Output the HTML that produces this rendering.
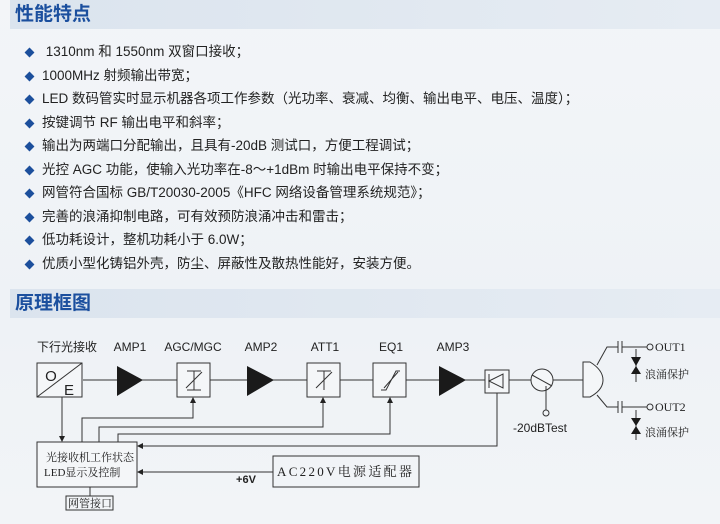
<!DOCTYPE html>
<html><head><meta charset="utf-8"><style>
body{margin:0;width:720px;height:524px;overflow:hidden;background:linear-gradient(180deg,#f3f5f8,#eef2f6 60%,#f2f4f7);font-family:"Liberation Sans","Noto Sans CJK SC",sans-serif;position:relative}
.hd{position:absolute;left:10px;width:710px;height:29px;background:linear-gradient(90deg,#dbe4ee,#e6ecf3);color:#1b4f9e;font-size:19px;font-weight:bold;line-height:29px;padding-left:5px;box-sizing:border-box}
.li{position:absolute;left:42px;font-size:13.5px;color:#222;white-space:nowrap;line-height:16px}
.d{position:absolute;left:26px;width:7px;height:7px;background:#1c4f9c;transform:rotate(45deg)}
</style></head><body>
<div class="hd" style="top:0">性能特点</div>
<div class="hd" style="top:289px">原理框图</div>
<div class="d" style="top:49px"></div><div class="li" style="top:44px">&nbsp;1310nm 和 1550nm 双窗口接收；</div>
<div class="d" style="top:73px"></div><div class="li" style="top:68px">1000MHz 射频输出带宽；</div>
<div class="d" style="top:96px"></div><div class="li" style="top:91px">LED 数码管实时显示机器各项工作参数（光功率、衰减、均衡、输出电平、电压、温度）；</div>
<div class="d" style="top:120px"></div><div class="li" style="top:115px">按键调节 RF 输出电平和斜率；</div>
<div class="d" style="top:143px"></div><div class="li" style="top:138px">输出为两端口分配输出，且具有-20dB 测试口，方便工程调试；</div>
<div class="d" style="top:167px"></div><div class="li" style="top:162px">光控 AGC 功能，使输入光功率在-8～+1dBm 时输出电平保持不变；</div>
<div class="d" style="top:190px"></div><div class="li" style="top:185px">网管符合国标 GB/T20030-2005《HFC 网络设备管理系统规范》；</div>
<div class="d" style="top:214px"></div><div class="li" style="top:209px">完善的浪涌抑制电路，可有效预防浪涌冲击和雷击；</div>
<div class="d" style="top:237px"></div><div class="li" style="top:232px">低功耗设计，整机功耗小于 6.0W；</div>
<div class="d" style="top:261px"></div><div class="li" style="top:256px">优质小型化铸铝外壳，防尘、屏蔽性及散热性能好，安装方便。</div>
<svg style="position:absolute;left:0;top:0" width="720" height="524" font-family="Liberation Sans, Noto Sans CJK SC, sans-serif">
<defs><marker id="a" markerWidth="6" markerHeight="6" refX="5" refY="3" orient="auto"><path d="M0,0L6,3L0,6z" fill="#222"/></marker></defs>
<g fill="none" stroke="#333" stroke-width="1">
<line x1="83" y1="380" x2="583" y2="380"/>
<rect x="37" y="363" width="45" height="34" fill="#f4f6f8"/><line x1="37" y1="397" x2="82" y2="363"/>
<rect x="177" y="363" width="33" height="34" fill="#f4f6f8"/>
<rect x="307" y="363" width="33" height="34" fill="#f4f6f8"/>
<rect x="373" y="363" width="33" height="34" fill="#f4f6f8"/>
<rect x="485" y="370" width="24" height="23" fill="#f4f6f8"/>
<circle cx="542" cy="380" r="11" fill="#f4f6f8"/><line x1="532" y1="375" x2="552" y2="386"/>
<line x1="546" y1="386" x2="546" y2="410"/><circle cx="546" cy="413" r="3"/>
<path d="M583,362 L590,362 Q603,370 603,380 Q603,390 590,397 L583,397 Z" fill="#f4f6f8"/>
<path d="M597,365 L607,347 L618 347 M622,347 L647,347"/><path d="M597,395 L607,407 L618,407 M622,407 L647,407"/>
<line x1="618" y1="341" x2="618" y2="353"/><line x1="622" y1="341" x2="622" y2="353"/>
<line x1="618" y1="401" x2="618" y2="413"/><line x1="622" y1="401" x2="622" y2="413"/>
<circle cx="650" cy="347" r="3"/><circle cx="650" cy="407" r="3"/>
<line x1="636" y1="349" x2="636" y2="382"/><line x1="636" y1="410" x2="636" y2="440"/>
<rect x="37" y="442" width="100" height="45" fill="#f4f6f8"/>
<rect x="66" y="496" width="47" height="14"/><line x1="90" y1="487" x2="90" y2="496"/>
<rect x="273" y="456" width="146" height="31"/>
<line x1="62" y1="397" x2="62" y2="441" marker-end="url(#a)"/>
<path d="M82,442 V418 H193 V398" marker-end="url(#a)"/>
<path d="M99,442 V427 H323 V398" marker-end="url(#a)"/>
<path d="M118,442 V434 H390 V398" marker-end="url(#a)"/>
<path d="M497,393 V446 H138" marker-end="url(#a)"/>
<path d="M273,472 H138" marker-end="url(#a)"/>
<path d="M187,371 H201 M187,390 H201 M194,371 V390 M186,388 L202,372"/>
<path d="M317,371 H331 M324,371 V390 M316,388 L332,372"/>
<path d="M381,390 H386 L396,371 H400 M384,388 L398,372"/>
<path d="M489,381 L503,374 V388 Z M489,374 V388"/>
</g>
<g fill="#1a1a1a">
<path d="M117,366 L143,380 L117,396Z"/><path d="M247,366 L274,380 L247,396Z"/><path d="M439,366 L466,380 L439,396Z"/>
<path d="M631,357 L641,357 L636,366Z M631,374 L641,374 L636,366Z"/><path d="M631,418 L641,418 L636,426Z M631,434 L641,434 L636,426Z"/>
</g>
<g font-size="12" fill="#222" text-anchor="middle">
<text x="67" y="351" font-size="12">下行光接收</text>
<text x="130" y="351">AMP1</text><text x="193" y="351">AGC/MGC</text><text x="261" y="351">AMP2</text>
<text x="325" y="351">ATT1</text><text x="391" y="351">EQ1</text><text x="453" y="351">AMP3</text>
<text x="540" y="432">-20dBTest</text><text x="246" y="483" font-weight="bold" font-size="11">+6V</text>
<text x="51" y="381" font-size="15">O</text><text x="69" y="395" font-size="15">E</text>
</g>
<g font-family="Liberation Serif, Noto Serif CJK SC, serif" fill="#222" font-size="11">
<text x="46" y="461">光接收机工作状态</text><text x="44" y="476">LED显示及控制</text>
<text x="68" y="507" font-size="11">网管接口</text>
<text x="277" y="476" font-size="13" letter-spacing="2.3">AC220V电源适配器</text>
<text x="655" y="351" font-size="12">OUT1</text><text x="655" y="411" font-size="12">OUT2</text>
<text x="645" y="378">浪涌保护</text><text x="645" y="436">浪涌保护</text>
</g>
</svg>
</body></html>
